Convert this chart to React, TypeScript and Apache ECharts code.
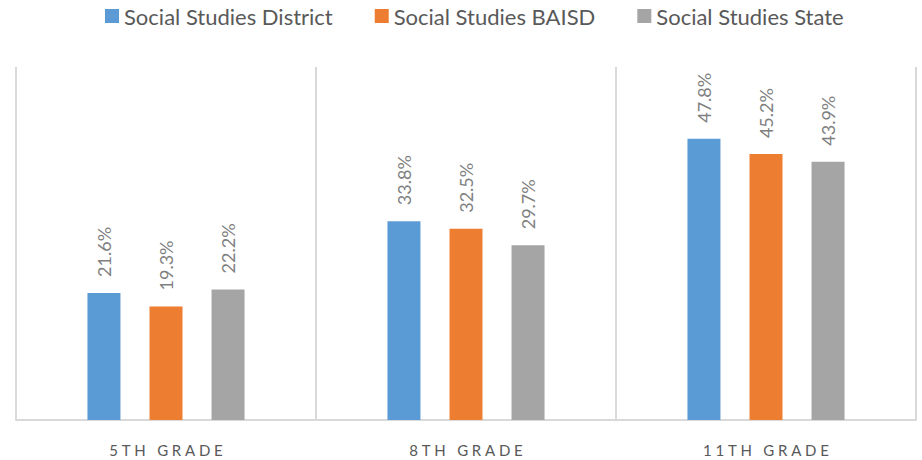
import React, { useEffect, useRef } from "react";
import * as echarts from "echarts";

const categories = ["5TH GRADE", "8TH GRADE", "11TH GRADE"];
const seriesNames = ["Social Studies District", "Social Studies BAISD", "Social Studies State"];
const districtValues = [21.6, 33.8, 47.8];
const baisdValues = [19.3, 32.5, 45.2];
const stateValues = [22.2, 29.7, 43.9];
const colors = ["#5b9bd5", "#ed7d31", "#a5a5a5"];

const GAP = "\u2009\u2009";
const spaced = (s: string) =>
  s
    .split("")
    .map((c) => (c === " " ? " " : c))
    .join(GAP);

export default function App() {
  const ref = useRef<HTMLDivElement>(null);
  useEffect(() => {
    document.body.style.margin = "0";
    const chart = echarts.init(ref.current!, undefined, { renderer: "svg" });
    const values = [districtValues, baisdValues, stateValues];
    chart.setOption({
      animation: false,
      textStyle: { fontFamily: "Lato" },
      legend: {
        top: 0,
        left: 100,
        itemWidth: 14,
        itemHeight: 14,
        itemGap: 42,
        icon: "rect",
        textStyle: { fontSize: 22, color: "#595959", fontFamily: "Lato" },
        data: seriesNames,
      },
      grid: { left: 16, right: 6, top: 67, bottom: 40 },
      xAxis: {
        type: "category",
        data: categories,
        axisLine: { lineStyle: { color: "#d9d9d9", width: 2 } },
        axisTick: { show: false },
        splitLine: { show: true, lineStyle: { color: "#d9d9d9", width: 2 } },
        axisLabel: {
          margin: 22,
          fontSize: 15,
          color: "#595959",
          fontFamily: "Lato",
          formatter: (v: string) => spaced(v),
        },
      },
      yAxis: { type: "value", min: 0, max: 60, show: false, splitLine: { show: false } },
      series: seriesNames.map((name, i) => ({
        name,
        type: "bar",
        data: values[i],
        barWidth: 33,
        barGap: "88%",
        itemStyle: { color: colors[i] },
        label: {
          show: true,
          position: "top",
          rotate: 90,
          align: "left",
          verticalAlign: "middle",
          distance: 16,
          fontSize: 18,
          color: "#7f7f7f",
          fontFamily: "Lato",
          formatter: (p: any) => p.value.toFixed(1) + "%",
        },
      })),
    });
    return () => chart.dispose();
  }, []);
  return <div ref={ref} style={{ width: 922, height: 460 }} />;
}
